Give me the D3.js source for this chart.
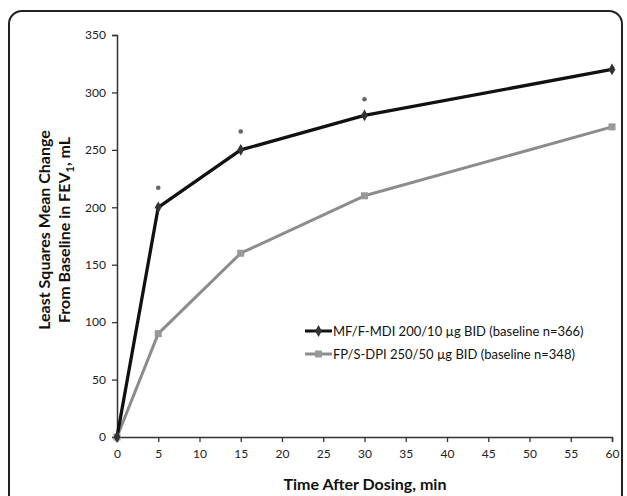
<!DOCTYPE html>
<html><head><meta charset="utf-8">
<script src="https://cdn.jsdelivr.net/npm/d3@7"></script>
<style>body{margin:0;background:#fff}svg{display:block}</style>
</head><body>
<svg id="c" width="627" height="496"></svg>
<script>
const times = [0, 5, 15, 30, 60];
const mfValues = [0, 200, 250, 280, 320];
const fpValues = [0, 90, 160, 210, 270];
const starTimes = [5, 15, 30];
const starValues = [217, 266, 294];
const xTicks = [0,5,10,15,20,25,30,35,40,45,50,55,60];
const yTicks = [0,50,100,150,200,250,300,350];
const seriesNames = ["MF/F-MDI 200/10 µg BID (baseline n=366)", "FP/S-DPI 250/50 µg BID (baseline n=348)"];
const seriesColors = ["#111111", "#8c8c8c"];

const svg = d3.select("#c");
const font = "Lato, 'Open Sans', sans-serif";

svg.append("rect").attr("x",9).attr("y",11).attr("width",613).attr("height",530)
  .attr("rx",13).attr("fill","#fff").attr("stroke","#222").attr("stroke-width",2);

const x = d3.scaleLinear().domain([0,60]).range([117,612]);
const y = d3.scaleLinear().domain([0,350]).range([437,35]);

const yAxis = svg.append("g").attr("transform","translate(117,0)")
  .call(d3.axisLeft(y).tickValues(yTicks).tickSize(5).tickPadding(6));
const xAxis = svg.append("g").attr("transform","translate(0,437)")
  .call(d3.axisBottom(x).tickValues(xTicks).tickSize(5).tickPadding(7));
[yAxis, xAxis].forEach(g => {
  g.select(".domain").attr("stroke","#333").attr("stroke-width",1.5);
  g.selectAll(".tick line").attr("stroke","#333").attr("stroke-width",1.3);
  g.selectAll(".tick text").attr("font-family",font).attr("font-size",12).attr("fill","#222");
});

const series = [mfValues, fpValues];
const line = d3.line().x((d,i)=>x(times[i])).y(d=>y(d));
[1,0].forEach(s => {
  svg.append("path").datum(series[s]).attr("d",line).attr("fill","none")
    .attr("stroke",seriesColors[s]).attr("stroke-width",s===0?3.3:3).attr("stroke-linejoin","round");
});
svg.append("g").selectAll("rect").data(fpValues).join("rect")
  .attr("x",(d,i)=>x(times[i])-3.5).attr("y",d=>y(d)-3.5).attr("width",7).attr("height",7)
  .attr("fill","#999");
svg.append("g").selectAll("path").data(mfValues).join("path")
  .attr("transform",(d,i)=>`translate(${x(times[i])},${y(d)})`)
  .attr("d",d3.symbol(d3.symbolDiamond,40)).attr("fill","#333");

svg.append("g").selectAll("circle").data(starValues).join("circle")
  .attr("cx",(d,i)=>x(starTimes[i])).attr("cy",d=>y(d)).attr("r",2.3).attr("fill","#666");

const lg = svg.append("g").attr("transform","translate(305,331)");
seriesNames.forEach((name,i)=>{
  const g = lg.append("g").attr("transform",`translate(0,${i*23})`);
  g.append("line").attr("x1",0).attr("x2",27).attr("y1",0).attr("y2",0)
    .attr("stroke",seriesColors[i]).attr("stroke-width",3);
  if(i===0) g.append("path").attr("transform","translate(13.5,0)").attr("d",d3.symbol(d3.symbolDiamond,40)).attr("fill","#333");
  else g.append("rect").attr("x",10).attr("y",-3.5).attr("width",7).attr("height",7).attr("fill","#999");
  g.append("text").attr("x",28).attr("y",0).attr("dy","0.35em").attr("font-family",font)
    .attr("font-size",13).attr("fill","#111").text(name);
});

svg.append("text").attr("x",365).attr("y",490).attr("text-anchor","middle")
  .attr("font-family",font).attr("font-weight","bold").attr("font-size",16).attr("fill","#111")
  .text("Time After Dosing, min");
const yt = svg.append("text").attr("transform","translate(50,230) rotate(-90)").attr("text-anchor","middle")
  .attr("font-family",font).attr("font-weight","bold").attr("font-size",16).attr("fill","#111");
yt.append("tspan").attr("x",0).attr("y",0).text("Least Squares Mean Change");
const t2 = yt.append("tspan").attr("x",0).attr("y",20).text("From Baseline in FEV");
t2.append("tspan").attr("font-size",11).attr("dy",4).text("1");
t2.append("tspan").attr("dy",-4).text(", mL");
</script>
</body></html>
